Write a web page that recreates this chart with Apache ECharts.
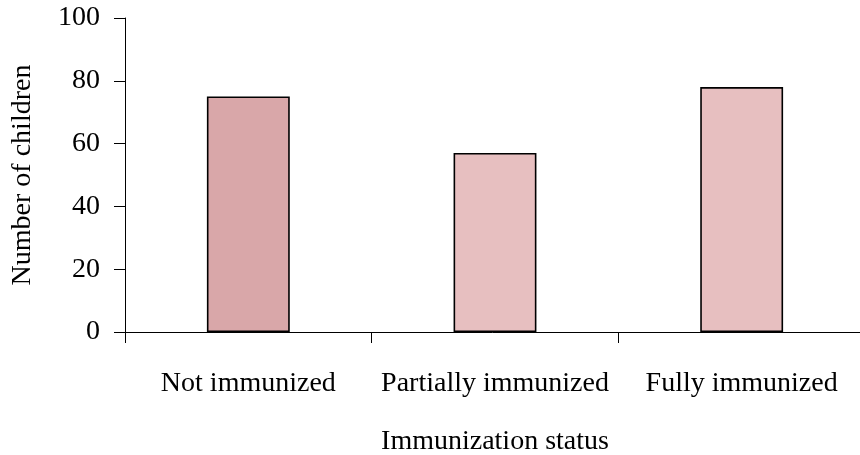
<!DOCTYPE html>
<html><head><meta charset="utf-8">
<script src="https://cdn.jsdelivr.net/npm/echarts@6/dist/echarts.min.js"></script>
<style>html,body{margin:0;padding:0;background:#fff}#c{width:860px;height:455px}</style>
</head><body><div id="c"></div>
<script>
const categories = ["Not immunized", "Partially immunized", "Fully immunized"];
const values = [75, 57, 78];
const barColors = ["#d9a7a9", "#e7bfc0", "#e7bfc0"];
const yTicks = [0, 20, 40, 60, 80, 100];

const chart = echarts.init(document.getElementById('c'));
const font = "Liberation Serif";
chart.setOption({
  animation: false,
  grid: { left: 125, width: 740, top: 18, height: 314, outerBoundsMode: 'none', containLabel: false },
  xAxis: {
    type: 'category', data: categories,
    name: 'Immunization status', nameLocation: 'middle', nameGap: 96,
    nameTextStyle: { fontFamily: font, fontSize: 28, color: '#000' },
    axisLine: { lineStyle: { color: '#000', width: 1 } },
    axisTick: { show: true, interval: 0, length: 11, lineStyle: { color: '#000' } },
    axisLabel: { interval: 0, fontFamily: font, fontSize: 28, color: '#000', margin: 38 }
  },
  yAxis: {
    type: 'value', min: 0, max: 100, interval: 20,
    name: 'Number of children', nameLocation: 'middle', nameGap: 88,
    nameTextStyle: { fontFamily: font, fontSize: 28, color: '#000' },
    axisLine: { show: true, lineStyle: { color: '#000', width: 1 } },
    axisTick: { show: true, length: 11, lineStyle: { color: '#000' } },
    axisLabel: { fontFamily: font, fontSize: 28, color: '#000', margin: 25,
      formatter: v => yTicks.includes(v) ? String(v) : '' },
    splitLine: { show: false }
  },
  series: [{
    type: 'bar', barWidth: '33.6%',
    data: values.map((v, i) => ({ value: v, itemStyle: { color: barColors[i] } })),
    itemStyle: { borderColor: '#000', borderWidth: 1.6 }
  }]
});
</script></body></html>
